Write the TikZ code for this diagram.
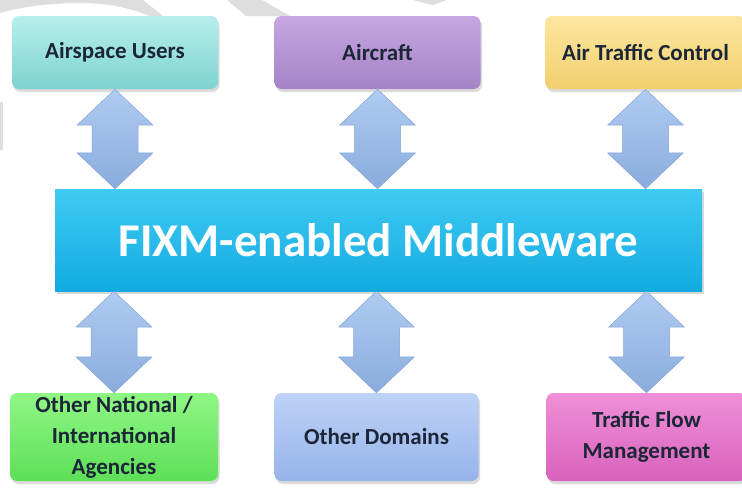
\documentclass[tikz,border=0pt]{standalone}
\usepackage{fontspec}
\setmainfont{Carlito}
\usetikzlibrary{calc,shadows}

\definecolor{inkdark}{HTML}{1B2636}
\definecolor{wmgray}{HTML}{DEDEDE}
\definecolor{tealtop}{HTML}{B6EFEC}
\definecolor{tealbot}{HTML}{7ED2D1}
\definecolor{purptop}{HTML}{C7A6E2}
\definecolor{purpbot}{HTML}{A583C6}
\definecolor{yeltop}{HTML}{FCE7A0}
\definecolor{yelbot}{HTML}{F2CF6E}
\definecolor{grntop}{HTML}{8FF784}
\definecolor{grnbot}{HTML}{5EDF58}
\definecolor{lbltop}{HTML}{BED2F7}
\definecolor{lblbot}{HTML}{96B3EA}
\definecolor{pnktop}{HTML}{EF8FD8}
\definecolor{pnkbot}{HTML}{D862BC}
\definecolor{mwtop}{HTML}{40CAF3}
\definecolor{mwbot}{HTML}{12ABE0}
\definecolor{arrtop}{HTML}{AFCBF1}
\definecolor{arrbot}{HTML}{8AACDD}
\definecolor{arredge}{HTML}{86A4D4}

\tikzset{
  partybox/.style={rounded corners=7pt, minimum width=206pt, minimum height=73pt,
    inner sep=2pt, align=center, text=inkdark, font=\fontsize{23}{31}\selectfont\bfseries,
    drop shadow={opacity=0.28, shadow xshift=1.5pt, shadow yshift=-3pt}},
  hubbox/.style={minimum width=647pt, minimum height=102pt, inner sep=0pt,
    top color=mwtop, bottom color=mwbot,
    drop shadow={opacity=0.3, shadow xshift=2pt, shadow yshift=-3pt}},
  hubtext/.style={text=white, font=\fontsize{47}{50}\selectfont\bfseries},
  fatarrow/.style={top color=arrtop, bottom color=arrbot, draw=arredge,
    line width=0.5pt, line join=round,
    to path={let \p1=(\tikztostart), \p2=(\tikztotarget) in
      (\x1,\y1) -- (\x1+38pt,\y1-36pt) -- (\x1+23pt,\y1-36pt) -- (\x1+23pt,\y2+36pt)
      -- (\x1+38pt,\y2+36pt) -- (\x1,\y2) -- (\x1-38pt,\y2+36pt) -- (\x1-23pt,\y2+36pt)
      -- (\x1-23pt,\y1-36pt) -- (\x1-38pt,\y1-36pt) -- cycle}}
}

\begin{document}
\begin{tikzpicture}[x=1pt, y=-1pt]
  \useasboundingbox (0,0) rectangle (742,493);
  \fill[white] (0,0) rectangle (742,493);

  % faint background marks along the top and left edges
  \fill[wmgray] (0,0) -- (143,0) -- (163,16) -- (150,16)
    .. controls (122,5) and (100,3) .. (80,3)
    .. controls (50,3) and (20,7) .. (0,13) -- cycle;
  \fill[wmgray] (227,0) -- (262,0) -- (290,16) -- (246,16) -- cycle;
  \fill[wmgray] (413,0) -- (447,0) -- (433,5) -- cycle;
  \fill[wmgray] (0,102) rectangle (3,150);

  % top row
  \node[partybox, top color=tealtop, bottom color=tealbot] (users) at (115,52.5) {Airspace Users};
  \node[partybox, top color=purptop, bottom color=purpbot] (craft) at (377.5,52.5) {Aircraft};
  \node[partybox, top color=yeltop, bottom color=yelbot, minimum width=201pt] (atc) at (645.5,52.5) {Air Traffic Control};

  % middleware bar
  \node[hubbox] (mw) at (378.5,240) {};
  \node[hubtext] (mwlabel) at (mw.center) {FIXM-enabled Middleware};

  % bottom row
  \node[partybox, top color=grntop, bottom color=grnbot, minimum width=208pt, minimum height=88pt] (agencies) at (114,437) {Other National /\\International\\Agencies};
  \node[partybox, top color=lbltop, bottom color=lblbot, minimum width=204pt, minimum height=88pt] (domains) at (376.5,437) {Other Domains};
  \node[partybox, top color=pnktop, bottom color=pnkbot, minimum width=200pt, minimum height=88pt] (tfm) at (646.5,437) {Traffic Flow\\Management};

  % two-way exchange arrows
  \path[fatarrow] (users.south) to (users.south |- mw.north);
  \path[fatarrow] (craft.south) to (craft.south |- mw.north);
  \path[fatarrow] (atc.south) to (atc.south |- mw.north);
  \path[fatarrow] (mw.south -| agencies.north) to (agencies.north);
  \path[fatarrow] (mw.south -| domains.north) to (domains.north);
  \path[fatarrow] (mw.south -| tfm.north) to (tfm.north);
\end{tikzpicture}
\end{document}
